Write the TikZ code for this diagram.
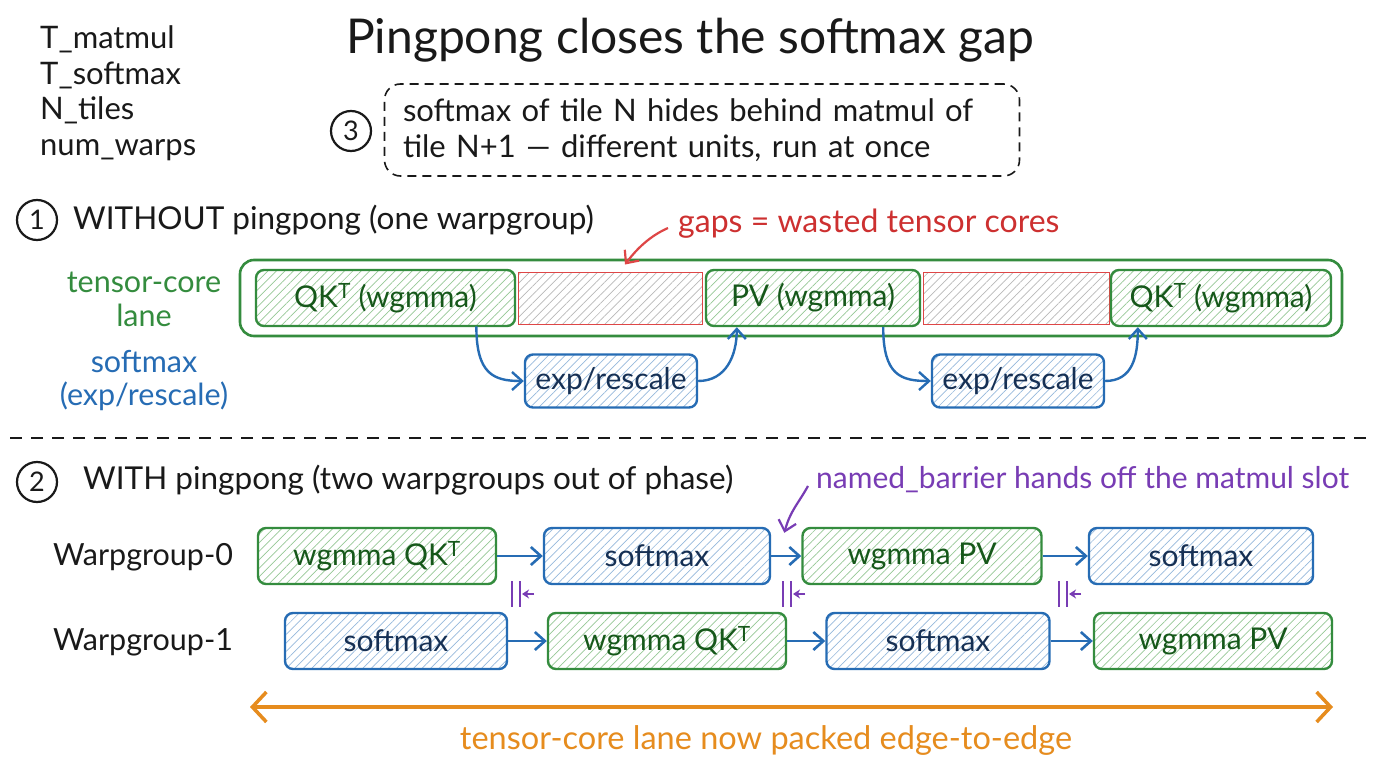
\documentclass[tikz,border=0pt]{standalone}
\usepackage{fontspec}
\setmainfont{Lato}
\usetikzlibrary{patterns.meta,arrows.meta,calc}
\definecolor{ink}{RGB}{25,25,25}
\definecolor{gstroke}{RGB}{52,140,62}
\definecolor{ghatch}{RGB}{150,200,150}
\definecolor{gtext}{RGB}{22,88,26}
\definecolor{bstroke}{RGB}{38,108,180}
\definecolor{bhatch}{RGB}{150,185,220}
\definecolor{btext}{RGB}{22,48,84}
\definecolor{rstroke}{RGB}{222,70,70}
\definecolor{rhatch}{RGB}{185,185,185}
\definecolor{rtext}{RGB}{205,48,48}
\definecolor{purp}{RGB}{120,60,180}
\definecolor{orng}{RGB}{230,140,30}
\tikzset{
  hatch/.style={pattern={Lines[angle=45,distance=6pt,line width=0.7pt]}},
  gbox/.style={draw=gstroke,line width=2.4pt,rounded corners=8pt,hatch,pattern color=ghatch,text=gtext,font=\fontsize{30}{34}\selectfont,inner sep=0pt},
  bbox/.style={draw=bstroke,line width=2.4pt,rounded corners=8pt,hatch,pattern color=bhatch,text=btext,font=\fontsize{30}{34}\selectfont,inner sep=0pt},
  gapbox/.style={draw=rstroke,line width=1pt,hatch,pattern color=rhatch,inner sep=0pt},
  lanebox/.style={draw=gstroke,line width=2.6pt,rounded corners=14pt,inner sep=0pt},
  numcirc/.style={circle,draw=ink,line width=2.2pt,minimum size=40pt,inner sep=0pt,text=ink,font=\fontsize{27}{30}\selectfont},
  notebox/.style={draw=ink,line width=1.6pt,dash pattern=on 9pt off 6pt,rounded corners=16pt,align=left,text=ink,font=\fontsize{31}{36}\selectfont,inner sep=0pt},
  barrow/.style={draw=bstroke,line width=2.4pt,-{Straight Barb[length=10pt,width=18pt]}},
  rowarrow/.style={draw=bstroke,line width=2.6pt,-{Straight Barb[length=10pt,width=18pt]}},
  plain/.style={text=ink,font=\fontsize{31.5}{36}\selectfont,inner sep=0pt},
  barrier/.pic={
    \draw[purp,line width=2.6pt] (-6,-13)--(-6,13) (2,-13)--(2,13);
    \draw[purp,line width=2pt,-{Stealth[length=7pt,width=9pt]}] (16,0)--(4,0);
  }
}
\begin{document}
\begin{tikzpicture}[x=1pt,y=-1pt]
\useasboundingbox (0,0) rectangle (1376,768);
\fill[white] (0,0) rectangle (1376,768);

% top-left list
\node[plain,anchor=west,align=left,font=\fontsize{31}{35.5}\selectfont] (vars) at (40,93) {T\_matmul\\T\_softmax\\N\_tiles\\num\_warps};

% title
\node[plain,font=\fontsize{48}{54}\selectfont] (title) at (690,40) {Pingpong closes the softmax gap};

% note
\node[numcirc] (c3) at (351,131) {3};
\node[notebox,minimum width=635pt,minimum height=92pt,text width=598pt] (note) at (702,130)
  {softmax of tile N hides behind matmul of\\tile N+1 — different units, run at once};

% section 1
\node[numcirc] (c1) at (37,220) {1};
\node[plain,anchor=west] (h1) at (73,220) {WITHOUT pingpong (one warpgroup)};
\node[inner sep=0pt,anchor=west,text=rtext,font=\fontsize{32}{36}\selectfont] (gaps) at (678,224) {gaps = wasted tensor cores};

\node[inner sep=0pt,align=center,text=gstroke,font=\fontsize{30.5}{34}\selectfont] (tclabel) at (144,299) {tensor-core\\lane};
\node[inner sep=0pt,align=center,text=bstroke,font=\fontsize{30.5}{33}\selectfont] (smlabel) at (144,381) {softmax\\(exp/rescale)};

\node[lanebox,minimum width=1102pt,minimum height=76pt] (lane) at (791,298) {};
\node[gbox,minimum width=259pt,minimum height=56pt] (qk1) at (385.5,298) {QK\textsuperscript{T} (wgmma)};
\node[gapbox,minimum width=184pt,minimum height=52pt] (gap1) at (610,298) {};
\node[gbox,minimum width=214pt,minimum height=56pt] (pv1) at (813,298) {PV (wgmma)};
\node[gapbox,minimum width=186pt,minimum height=52pt] (gap2) at (1016,298) {};
\node[gbox,minimum width=220pt,minimum height=56pt] (qk2) at (1221,298) {QK\textsuperscript{T} (wgmma)};

\node[bbox,minimum width=172pt,minimum height=53pt] (exp1) at (611,381) {exp/rescale};
\node[bbox,minimum width=172pt,minimum height=53pt] (exp2) at (1018,381) {exp/rescale};

\draw[barrow] ([xshift=-39pt]qk1.south east) .. controls +(0,48) and +(-30,0) .. (exp1.west);
\draw[barrow] (exp1.east) .. controls +(28,0) and +(0,28) .. ([xshift=32pt]pv1.south west);
\draw[barrow] ([xshift=-38pt]pv1.south east) .. controls +(0,48) and +(-30,0) .. (exp2.west);
\draw[barrow] (exp2.east) .. controls +(28,0) and +(0,28) .. ([xshift=28pt]qk2.south west);

\draw[rstroke,line width=2.2pt,-{Straight Barb[length=10pt,width=18pt]}] ([xshift=-10pt,yshift=-4pt]gaps.west) .. controls +(-18,8) and +(12,-16) .. ([xshift=15pt,yshift=7pt]gap1.north);

% separator
\coordinate (sepL) at (10,438);
\coordinate (sepR) at (1366,438);
\draw[ink,line width=2pt,dash pattern=on 12pt off 9pt] (sepL) -- (sepR);

% section 2
\node[numcirc] (c2) at (37,482) {2};
\node[plain,anchor=west] (h2) at (83,480) {WITH pingpong (two warpgroups out of phase)};
\node[inner sep=0pt,anchor=west,text=purp,font=\fontsize{30}{34}\selectfont] (named) at (816,480) {named\_barrier hands off the matmul slot};

\node[plain,font=\fontsize{30.5}{34}\selectfont] (wg0) at (143,557) {Warpgroup-0};
\node[plain,font=\fontsize{30.5}{34}\selectfont] (wg1) at (143,642) {Warpgroup-1};

\node[gbox,minimum width=238pt,minimum height=56pt] (qk0) at (377,556) {wgmma QK\textsuperscript{T}};
\node[bbox,minimum width=226pt,minimum height=56pt] (sm0) at (657,556) {softmax};
\node[gbox,minimum width=239pt,minimum height=56pt] (pv0) at (922,556) {wgmma PV};
\node[bbox,minimum width=224pt,minimum height=56pt] (sm0b) at (1201,556) {softmax};

\node[bbox,minimum width=222pt,minimum height=56pt] (sm1) at (396,641) {softmax};
\node[gbox,minimum width=238pt,minimum height=56pt] (qk1b) at (667,641) {wgmma QK\textsuperscript{T}};
\node[bbox,minimum width=223pt,minimum height=56pt] (sm1b) at (938,641) {softmax};
\node[gbox,minimum width=238pt,minimum height=56pt] (pv1b) at (1213,641) {wgmma PV};

\draw[rowarrow] (qk0.east) -- (sm0.west);
\draw[rowarrow] (sm0.east) -- (pv0.west);
\draw[rowarrow] (pv0.east) -- (sm0b.west);
\draw[rowarrow] (sm1.east) -- (qk1b.west);
\draw[rowarrow] (qk1b.east) -- (sm1b.west);
\draw[rowarrow] (sm1b.east) -- (pv1b.west);

\draw[purp,line width=2.2pt,-{Straight Barb[length=10pt,width=18pt]}] ([xshift=-8pt,yshift=-6pt]named.west) .. controls +(-10,18) and +(6,-22) .. ([xshift=-17pt,yshift=-6pt]pv0.north west);

\pic at (518,594) {barrier};
\pic at (789,594) {barrier};
\pic at (1065,594) {barrier};

% orange span
\coordinate (oL) at (250,707);
\coordinate (oR) at (1333,707);
\draw[orng,line width=3.5pt,{Straight Barb[length=14pt,width=30pt]}-{Straight Barb[length=14pt,width=30pt]}] (oL) -- (oR);
\node[inner sep=0pt,text=orng,font=\fontsize{32.5}{36}\selectfont] (olabel) at (766,740) {tensor-core lane now packed edge-to-edge};
\end{tikzpicture}
\end{document}
